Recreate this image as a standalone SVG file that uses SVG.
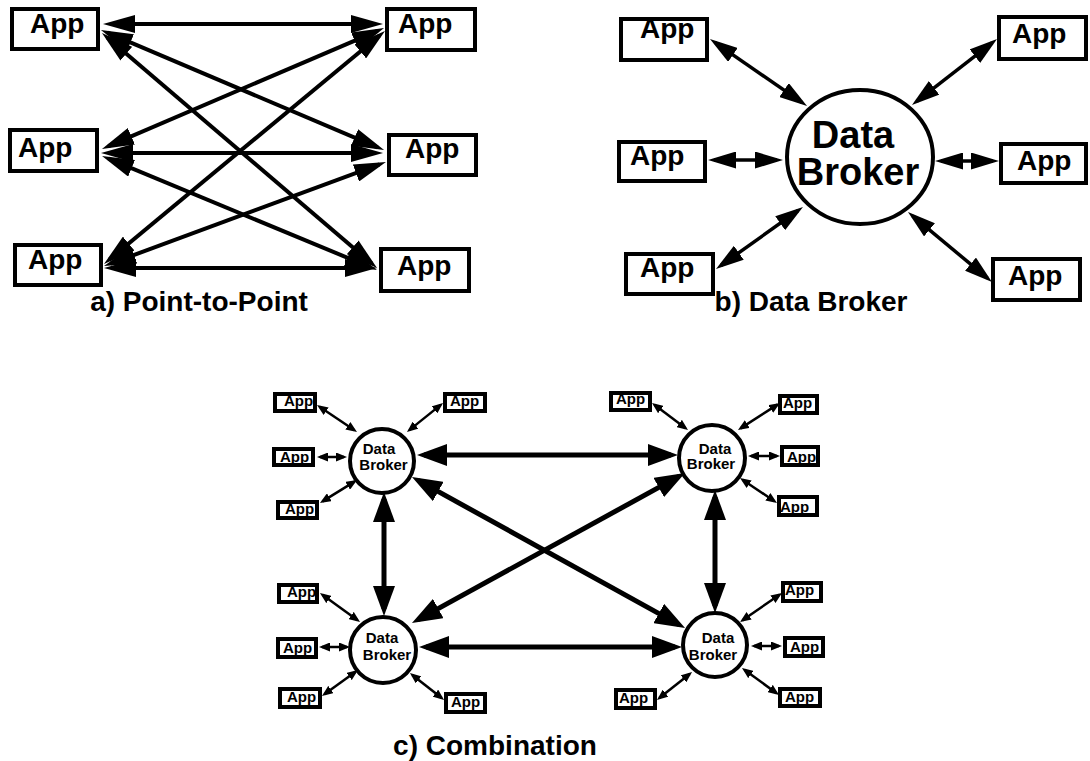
<svg xmlns="http://www.w3.org/2000/svg" width="1090" height="761" viewBox="0 0 1090 761">
<style>
.box{fill:#fff;stroke:#000;stroke-width:4}
.sbox{fill:#fff;stroke:#000;stroke-width:4}
.t{font-family:"Liberation Sans",Arial,sans-serif;font-weight:bold;fill:#000}
.big{font-size:28px}
.mid{font-size:38px}
.sm{font-size:15px}
.la{stroke:#000;stroke-width:4;fill:none;marker-start:url(#ha);marker-end:url(#ha)}
.lb{stroke:#000;stroke-width:3.5;fill:none;marker-start:url(#hb);marker-end:url(#hb)}
.lc{stroke:#000;stroke-width:5;fill:none;marker-start:url(#hc);marker-end:url(#hc)}
.ls{stroke:#000;stroke-width:2.5;fill:none;marker-start:url(#hs);marker-end:url(#hs)}
.brk{fill:#fff;stroke:#000;stroke-width:4}
</style>
<defs>
<marker id="ha" markerUnits="userSpaceOnUse" markerWidth="32" markerHeight="18" refX="25" refY="9" orient="auto-start-reverse"><path d="M0,0 L32,9 L0,18 z" fill="#000"/></marker>
<marker id="hb" markerUnits="userSpaceOnUse" markerWidth="28" markerHeight="17" refX="22" refY="8.5" orient="auto-start-reverse"><path d="M0,0 L28,8.5 L0,17 z" fill="#000"/></marker>
<marker id="hc" markerUnits="userSpaceOnUse" markerWidth="30" markerHeight="22" refX="23" refY="11" orient="auto-start-reverse"><path d="M0,0 L30,11 L0,22 z" fill="#000"/></marker>
<marker id="hs" markerUnits="userSpaceOnUse" markerWidth="11" markerHeight="9" refX="8" refY="4.5" orient="auto-start-reverse"><path d="M0,0 L11,4.5 L0,9 z" fill="#000"/></marker>
</defs>
<rect width="1090" height="761" fill="#fff"/>
<g id="connectors">
<line class="la" x1="110" y1="24" x2="376" y2="24"/>
<line class="la" x1="107.4" y1="32.7" x2="377.6" y2="147.3"/>
<line class="la" x1="107.3" y1="37.5" x2="371.7" y2="263.5"/>
<line class="la" x1="108.4" y1="146.2" x2="377.6" y2="30.8"/>
<line class="la" x1="108" y1="153" x2="376" y2="153"/>
<line class="la" x1="108.5" y1="158.7" x2="370.5" y2="267.3"/>
<line class="la" x1="109.4" y1="259.5" x2="379.6" y2="35.5"/>
<line class="la" x1="110.6" y1="263.6" x2="379.4" y2="164.4"/>
<line class="la" x1="111" y1="268" x2="370" y2="268"/>
<line class="lb" x1="714.9" y1="42.4" x2="802.1" y2="102.6"/>
<line class="lb" x1="992.3" y1="42.7" x2="916.7" y2="101.3"/>
<line class="lb" x1="714" y1="160" x2="777" y2="160"/>
<line class="lb" x1="941" y1="161" x2="993" y2="161"/>
<line class="lb" x1="720.9" y1="265.5" x2="798.1" y2="210.5"/>
<line class="lb" x1="912.6" y1="215.8" x2="987.4" y2="278.2"/>
<line class="lc" x1="424" y1="455" x2="671" y2="455"/>
<line class="lc" x1="384" y1="499" x2="384" y2="609"/>
<line class="lc" x1="715" y1="497" x2="715" y2="606"/>
<line class="lc" x1="426" y1="647" x2="675" y2="647"/>
<line class="lc" x1="418.1" y1="480.4" x2="678.9" y2="624.6"/>
<line class="lc" x1="678.9" y1="476.4" x2="418.1" y2="619.6"/>
<line class="ls" x1="319.5" y1="406.7" x2="354.5" y2="430.3"/>
<line class="ls" x1="320" y1="457" x2="344" y2="457"/>
<line class="ls" x1="322.5" y1="501.4" x2="354.5" y2="481.6"/>
<line class="ls" x1="440.7" y1="404.9" x2="409.3" y2="430.1"/>
<line class="ls" x1="654.4" y1="404.8" x2="685.6" y2="428.2"/>
<line class="ls" x1="777.5" y1="404.6" x2="740.5" y2="428.4"/>
<line class="ls" x1="751" y1="456" x2="777" y2="456"/>
<line class="ls" x1="742.5" y1="479.7" x2="774.5" y2="501.3"/>
<line class="ls" x1="322.4" y1="594.8" x2="357.6" y2="620.2"/>
<line class="ls" x1="322" y1="647" x2="347" y2="647"/>
<line class="ls" x1="324.4" y1="694.2" x2="355.6" y2="671.8"/>
<line class="ls" x1="412.3" y1="674.9" x2="441.7" y2="698.1"/>
<line class="ls" x1="779.5" y1="594.7" x2="742.5" y2="620.3"/>
<line class="ls" x1="754" y1="646" x2="779" y2="646"/>
<line class="ls" x1="744.4" y1="669.8" x2="776.6" y2="693.2"/>
<line class="ls" x1="659.3" y1="698.1" x2="689.7" y2="673.9"/>
</g>
<g id="a-app-tl"><rect class="box" x="12" y="9" width="86" height="40"/><text class="t big" x="30" y="33">App</text></g>
<g id="a-app-tr"><rect class="box" x="387" y="9" width="88" height="41"/><text class="t big" x="398" y="33">App</text></g>
<g id="a-app-ml"><rect class="box" x="10" y="130" width="87" height="41"/><text class="t big" x="18" y="157">App</text></g>
<g id="a-app-mr"><rect class="box" x="389" y="135" width="87" height="40"/><text class="t big" x="405" y="158">App</text></g>
<g id="a-app-bl"><rect class="box" x="15" y="245" width="86" height="40"/><text class="t big" x="28" y="269">App</text></g>
<g id="a-app-br"><rect class="box" x="381" y="249" width="88" height="42"/><text class="t big" x="397" y="275">App</text></g>
<g id="label-a"><text class="t big" x="199" y="311" text-anchor="middle">a) Point-to-Point</text></g>
<g id="b-broker"><ellipse class="brk" cx="860" cy="157" rx="73" ry="67"/><text class="t mid" x="853" y="148" text-anchor="middle">Data</text><text class="t mid" x="858" y="185" text-anchor="middle">Broker</text></g>
<g id="b-app-tl"><rect class="box" x="621" y="19" width="86" height="41"/><text class="t big" x="640" y="38">App</text></g>
<g id="b-app-tr"><rect class="box" x="999" y="17" width="87" height="42"/><text class="t big" x="1012" y="43">App</text></g>
<g id="b-app-ml"><rect class="box" x="619" y="142" width="86" height="39"/><text class="t big" x="630" y="165">App</text></g>
<g id="b-app-mr"><rect class="box" x="1001" y="144" width="85" height="39"/><text class="t big" x="1017" y="170">App</text></g>
<g id="b-app-bl"><rect class="box" x="626" y="254" width="87" height="40"/><text class="t big" x="640" y="277">App</text></g>
<g id="b-app-br"><rect class="box" x="993" y="259" width="87" height="41"/><text class="t big" x="1008" y="285">App</text></g>
<g id="label-b"><text class="t big" x="811" y="311" text-anchor="middle">b) Data Broker</text></g>
<g id="c-broker-tl"><circle class="brk" cx="382" cy="461" r="32"/><text class="t sm" x="379" y="454" text-anchor="middle">Data</text><text class="t sm" x="383.5" y="470" text-anchor="middle">Broker</text></g>
<g id="c-broker-tr"><circle class="brk" cx="712" cy="458" r="33"/><text class="t sm" x="715" y="454" text-anchor="middle">Data</text><text class="t sm" x="711" y="469" text-anchor="middle">Broker</text></g>
<g id="c-broker-bl"><circle class="brk" cx="383" cy="650" r="33"/><text class="t sm" x="382" y="643" text-anchor="middle">Data</text><text class="t sm" x="387" y="660" text-anchor="middle">Broker</text></g>
<g id="c-broker-br"><circle class="brk" cx="715" cy="645" r="32"/><text class="t sm" x="718" y="643" text-anchor="middle">Data</text><text class="t sm" x="713" y="660" text-anchor="middle">Broker</text></g>
<g id="c-tl-app1"><rect class="sbox" x="275" y="394" width="40" height="17"/><text class="t sm" x="284" y="406">App</text></g>
<g id="c-tl-app2"><rect class="sbox" x="274" y="449" width="39" height="16"/><text class="t sm" x="280" y="462">App</text></g>
<g id="c-tl-app3"><rect class="sbox" x="278" y="502" width="39" height="16"/><text class="t sm" x="285" y="514">App</text></g>
<g id="c-tl-app4"><rect class="sbox" x="445" y="394" width="40" height="17"/><text class="t sm" x="450" y="406">App</text></g>
<g id="c-tr-app1"><rect class="sbox" x="611" y="393" width="39" height="17"/><text class="t sm" x="616" y="404">App</text></g>
<g id="c-tr-app2"><rect class="sbox" x="780" y="396" width="37" height="17"/><text class="t sm" x="783" y="408">App</text></g>
<g id="c-tr-app3"><rect class="sbox" x="782" y="447" width="36" height="18"/><text class="t sm" x="787" y="462">App</text></g>
<g id="c-tr-app4"><rect class="sbox" x="779" y="497" width="38" height="18"/><text class="t sm" x="780" y="512">App</text></g>
<g id="c-bl-app1"><rect class="sbox" x="279" y="585" width="38" height="17"/><text class="t sm" x="287" y="597">App</text></g>
<g id="c-bl-app2"><rect class="sbox" x="278" y="639" width="38" height="18"/><text class="t sm" x="283" y="653">App</text></g>
<g id="c-bl-app3"><rect class="sbox" x="280" y="689" width="40" height="18"/><text class="t sm" x="287" y="702">App</text></g>
<g id="c-bl-app4"><rect class="sbox" x="446" y="694" width="39" height="18"/><text class="t sm" x="451" y="707">App</text></g>
<g id="c-br-app1"><rect class="sbox" x="783" y="583" width="38" height="18"/><text class="t sm" x="785" y="595">App</text></g>
<g id="c-br-app2"><rect class="sbox" x="785" y="638" width="38" height="18"/><text class="t sm" x="790" y="652">App</text></g>
<g id="c-br-app3"><rect class="sbox" x="780" y="689" width="40" height="17"/><text class="t sm" x="785" y="702">App</text></g>
<g id="c-br-app4"><rect class="sbox" x="616" y="690" width="39" height="18"/><text class="t sm" x="619" y="703">App</text></g>
<g id="label-c"><text class="t big" x="495" y="755" text-anchor="middle">c) Combination</text></g>
</svg>
